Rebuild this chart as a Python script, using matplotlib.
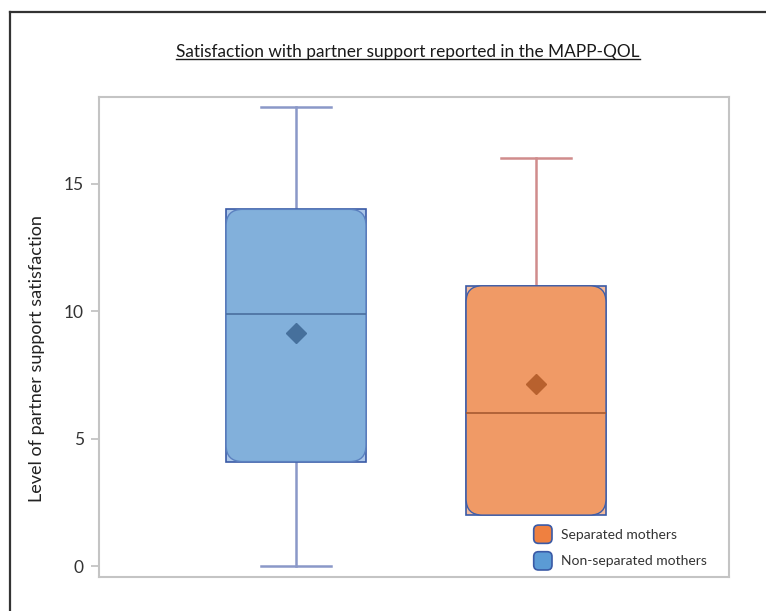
import matplotlib
matplotlib.use("Agg")
import matplotlib.pyplot as plt
from matplotlib.patches import FancyBboxPatch, Patch
from matplotlib.legend_handler import HandlerPatch
from matplotlib.lines import Line2D

plt.rcParams["font.family"] = ["Lato", "DejaVu Sans"]

# Summary statistics per group (MAPP-QOL partner support)
groups = ["Non-separated mothers", "Separated mothers"]
whisker_lo = [0, 2]
q1 = [4.1, 2]
median = [9.9, 6.0]
q3 = [14, 11]
whisker_hi = [18, 16]
means = [9.15, 7.15]

outer_fill = ["#aac6e8", "#f5bc9c"]
inner_fill = ["#82b0db", "#f09a66"]
box_edge = "#3a5aa6"
inner_edge = ["#5a80bf", "#3f5ea8"]
whisker_col = ["#8a98c8", "#d08c8c"]
median_col = ["#4a6f9e", "#a65a30"]
mean_col = ["#46709c", "#b8612e"]

fig = plt.figure(figsize=(7.66, 6.11), dpi=100)
ax = fig.add_axes([99 / 766, 1 - 577 / 611, 630 / 766, 480 / 611])

positions = [1, 2]
box_w = 0.583
stats = []
for i in range(len(groups)):
    stats.append(dict(label=groups[i], whislo=whisker_lo[i], q1=q1[i], med=median[i],
                      q3=q3[i], whishi=whisker_hi[i], mean=means[i], fliers=[]))

bp = ax.bxp(stats, positions=positions, widths=box_w, patch_artist=True,
            showmeans=True, capwidths=0.29)

for i, b in enumerate(bp["boxes"]):
    b.set_facecolor(outer_fill[i])
    b.set_edgecolor(box_edge)
    b.set_linewidth(1.2)
    b.set_zorder(2)
for i in range(len(groups)):
    for w in bp["whiskers"][2 * i:2 * i + 2] + bp["caps"][2 * i:2 * i + 2]:
        w.set_color(whisker_col[i])
        w.set_linewidth(1.8)
        w.set_zorder(1.5)
    # no lower whisker when it collapses onto the box
    if whisker_lo[i] >= q1[i]:
        bp["caps"][2 * i].set_visible(False)
        bp["whiskers"][2 * i].set_visible(False)
    bp["medians"][i].set_color(median_col[i])
    bp["medians"][i].set_linewidth(1.2)
    bp["medians"][i].set_zorder(4)
    m = bp["means"][i]
    m.set_marker("D")
    m.set_markersize(10.5)
    m.set_markerfacecolor(mean_col[i])
    m.set_markeredgecolor(mean_col[i])
    m.set_zorder(5)

ax.set_xlim(0.179, 2.804)
ax.set_ylim(-0.43, 18.41)

# rounded inner box, aspect corrected so corners look circular on screen
x_px = 630 / (2.804 - 0.179)
y_px = 480 / (18.41 + 0.43)
aspect = x_px / y_px
for i, p in enumerate(positions):
    rb = FancyBboxPatch((p - box_w / 2, q1[i]), box_w, q3[i] - q1[i],
                        boxstyle="round,pad=0,rounding_size=0.068",
                        mutation_aspect=aspect, facecolor=inner_fill[i],
                        edgecolor=inner_edge[i], linewidth=1.0, zorder=3)
    ax.add_patch(rb)

ax.set_xticks([])
ax.set_yticks([0, 5, 10, 15])
ax.tick_params(axis="y", colors="#bfbfbf", length=6, width=1.2, labelcolor="#333333",
               labelsize=12.5, pad=5)
for s in ax.spines.values():
    s.set_color("#c4c4c4")
    s.set_linewidth(1.5)

ax.set_ylabel("Level of partner support satisfaction", fontsize=13, color="#222222")
ax.yaxis.set_label_coords(-0.086, 0.456)


def rounded_handle(legend, orig_handle, xdescent, ydescent, width, height, fontsize):
    return FancyBboxPatch((-xdescent, -ydescent), height, height,
                          boxstyle="round,pad=0,rounding_size=3.5")


handles = [Patch(facecolor="#ef8040", edgecolor=box_edge, linewidth=1.2, label=groups[1]),
           Patch(facecolor="#5b9bd5", edgecolor=box_edge, linewidth=1.2, label=groups[0])]
ax.legend(handles=handles, loc="lower left", bbox_to_anchor=(0.690, 0.0146), frameon=False,
          fontsize=10, handlelength=1.65, handleheight=1.65, handletextpad=0.3,
          labelspacing=0.6, labelcolor="#333333", borderpad=0, borderaxespad=0,
          handler_map={Patch: HandlerPatch(patch_func=rounded_handle)})

title = fig.text(408 / 766, 1 - 52 / 611, "Satisfaction with partner support reported in the MAPP-QOL",
                 ha="center", va="center", fontsize=12.4, color="#1a1a1a")
fig.canvas.draw()
bb = title.get_window_extent().transformed(fig.transFigure.inverted())
fig.add_artist(Line2D([bb.x0, bb.x1], [bb.y0 + 0.002, bb.y0 + 0.002],
                      transform=fig.transFigure, color="#1a1a1a", linewidth=1.0))

# outer frame lines (left and top)
fig.add_artist(Line2D([10 / 766, 10 / 766], [0, 1 - 12 / 611], transform=fig.transFigure,
                      color="#333333", linewidth=1.6))
fig.add_artist(Line2D([10 / 766, 1], [1 - 12 / 611, 1 - 12 / 611], transform=fig.transFigure,
                      color="#333333", linewidth=1.6))

fig.savefig("out.png", dpi=100)
